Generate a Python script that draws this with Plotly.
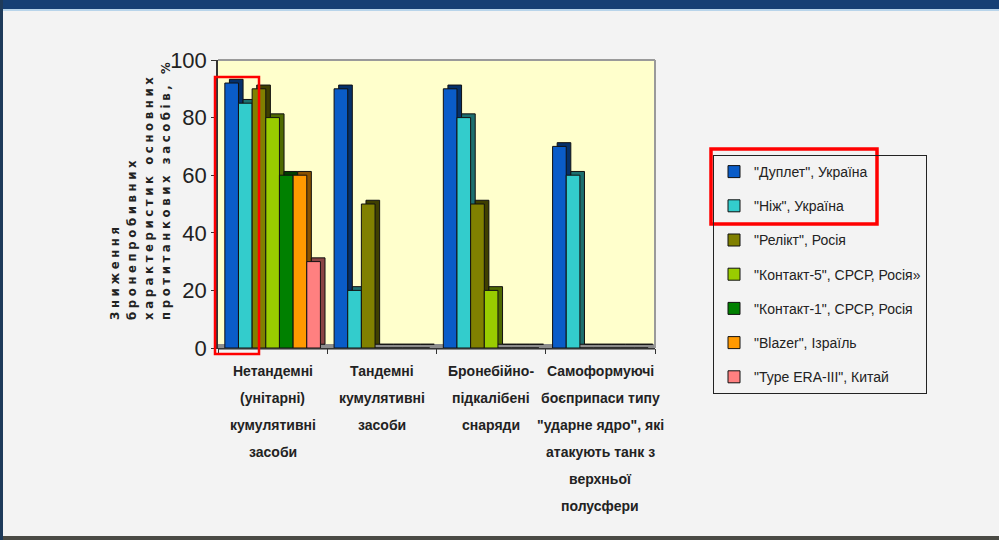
import plotly.graph_objects as go

categories = [
    "Нетандемні<br>(унітарні)<br>кумулятивні<br>засоби",
    "Тандемні<br>кумулятивні<br>засоби",
    "Бронебійно-<br>підкалібені<br>снаряди",
    "Самоформуючі<br>боєприпаси типу<br>\"ударне ядро\", які<br>атакують танк з<br>верхньої<br>полусфери",
]
series_names = [
    "\"Дуплет\", Україна",
    "\"Ніж\", Україна",
    "\"Релікт\", Росія",
    "\"Контакт-5\", СРСР, Росія»",
    "\"Контакт-1\", СРСР, Росія",
    "\"Blazer\", Ізраїль",
    "\"Type ERA-III\", Китай",
]
duplet = [92, 90, 90, 70]
nizh = [85, 20, 80, 60]
relikt = [90, 50, 50, 0]
kontakt5 = [80, 0, 20, 0]
kontakt1 = [60, 0, 0, 0]
blazer = [60, 0, 0, 0]
era3 = [30, 0, 0, 0]
series_values = [duplet, nizh, relikt, kontakt5, kontakt1, blazer, era3]
colors = ["#0A5CC8", "#33CCCC", "#808000", "#99CC00", "#008000", "#FF9900", "#FF8080"]
side_colors = ["#05306A", "#1C6F6F", "#3F3F00", "#4F6A00", "#004000", "#8A5200", "#8A4444"]
y_ticks = [0, 20, 40, 60, 80, 100]
y_title_lines = ["Зниження", "бронепробивних", "характеристик основних", "протитанкових засобів, %"]

W, H = 999, 540
L, R, T, B = 218, 655, 60, 348


def px(x):
    return (x - L) / (R - L)


def py(y):
    return (B - y) / (B - T)


SANS = "Liberation Sans, Arial, sans-serif"
n = len(series_names)
bw = 0.125
dx = 0.042   # 3D depth, horizontal (category units)
dy = 1.3     # 3D depth, vertical (value units)

fig = go.Figure()
xs = list(range(len(categories)))
# depth faces (drawn first)
for k, (vals, sc) in enumerate(zip(series_values, side_colors)):
    off = -n * bw / 2 + k * bw
    fig.add_trace(go.Bar(
        x=xs, y=vals, base=dy, width=bw, offset=off + dx,
        marker=dict(color=sc, line=dict(color="#111111", width=1)),
        showlegend=False, hoverinfo="skip", legendgroup="depth",
    ))
# front faces
for k, (name, vals, col) in enumerate(zip(series_names, series_values, colors)):
    off = -n * bw / 2 + k * bw
    fig.add_trace(go.Bar(
        x=xs, y=vals, name=name, width=bw, offset=off,
        marker=dict(color=col, line=dict(color="#111111", width=1)),
        legendgroup="g%d" % k,
    ))

# category labels, line by line
for i, cat in enumerate(categories):
    for j, line in enumerate(cat.split("<br>")):
        fig.add_annotation(
            x=i, y=0, xref="x", yref="paper", text="<b>" + line + "</b>",
            showarrow=False, yanchor="middle", xanchor="center",
            yshift=-23 - 27 * j,
            font=dict(family=SANS, size=14, color="#222222"),
        )

# y-axis title
fig.add_annotation(
    x=px(140), y=py(190), xref="paper", yref="paper",
    text="<br>".join('<span style="letter-spacing:3.6px">' + s + "</span>" for s in y_title_lines),
    textangle=-90, align="left", showarrow=False,
    xanchor="center", yanchor="middle",
    font=dict(family="DejaVu Sans Condensed, DejaVu Sans", size=13, color="#222222", weight="bold"),
)

shapes = [
    dict(type="rect", xref="paper", yref="paper", x0=px(0), x1=px(W), y0=py(0), y1=py(9),
         fillcolor="#163F74", line=dict(width=0), layer="below"),
    dict(type="rect", xref="paper", yref="paper", x0=px(0), x1=px(W), y0=py(9), y1=py(11),
         fillcolor="#B8D4EA", line=dict(width=0), layer="below"),
    dict(type="rect", xref="paper", yref="paper", x0=px(0), x1=px(W), y0=py(536), y1=py(540),
         fillcolor="#4A4A44", line=dict(width=0), layer="below"),
    dict(type="rect", xref="paper", yref="paper", x0=px(0), x1=px(3), y0=py(0), y1=py(540),
         fillcolor="#1E3A5A", line=dict(width=0), layer="below"),
    dict(type="line", xref="paper", yref="paper", x0=0, x1=1, y0=1, y1=1,
         line=dict(color="#9A9A9A", width=2)),
    dict(type="line", xref="paper", yref="paper", x0=1, x1=1, y0=0, y1=1,
         line=dict(color="#9A9A9A", width=2)),
    dict(type="rect", xref="paper", yref="paper", x0=0, x1=1, y0=py(350), y1=py(344),
         fillcolor="#8C8C8C", line=dict(width=0), layer="below"),
    dict(type="rect", xref="paper", yref="paper", x0=px(215), x1=px(259), y0=py(354), y1=py(77),
         line=dict(color="#FF0000", width=2.5)),
    dict(type="rect", xref="paper", yref="paper", x0=px(711), x1=px(877), y0=py(224), y1=py(149),
         line=dict(color="#FF0000", width=3.5)),
]

fig.update_layout(
    width=W, height=H,
    margin=dict(l=L, r=W - R, t=T, b=H - B),
    paper_bgcolor="#F3F3F3", plot_bgcolor="#FFFFCC",
    barmode="overlay",
    showlegend=True,
    legend=dict(
        x=px(713), y=py(155), xanchor="left", yanchor="top",
        bordercolor="#222222", borderwidth=1, bgcolor="rgba(0,0,0,0)",
        font=dict(family=SANS, size=14, color="#222222"),
        tracegroupgap=13, itemwidth=30, traceorder="grouped",
    ),
    shapes=shapes,
    xaxis=dict(
        tickvals=[-0.5, 0.5, 1.5, 2.5, 3.5], ticktext=["", "", "", "", ""],
        range=[-0.5, 3.5], showgrid=False, zeroline=False,
        showline=True, linecolor="#333333", linewidth=1,
        ticks="outside", ticklen=5, tickcolor="#333333",
    ),
    yaxis=dict(
        range=[0, 100], tickvals=y_ticks, showgrid=False, zeroline=False,
        showline=True, linecolor="#333333", linewidth=1.5,
        ticks="outside", ticklen=5, tickcolor="#333333",
        tickfont=dict(family=SANS, size=22, color="#222222"),
    ),
)

fig.write_html("out.html")
